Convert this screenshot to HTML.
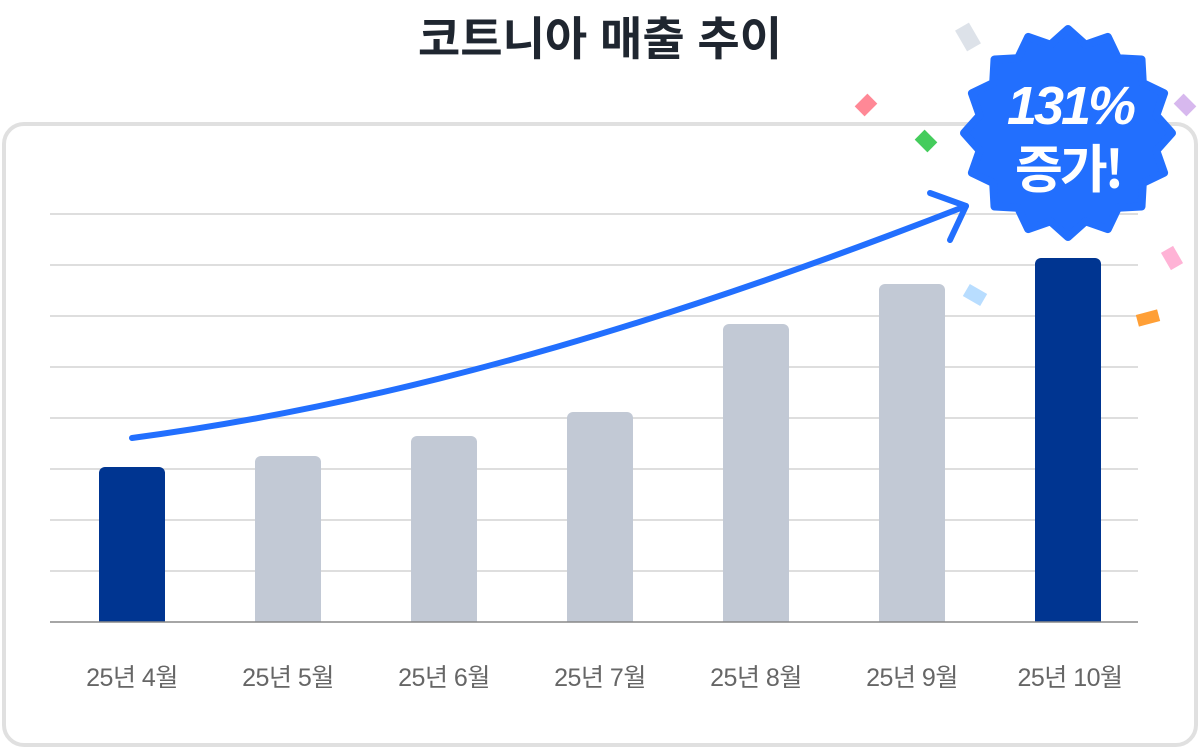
<!DOCTYPE html>
<html><head><meta charset="utf-8"><style>
body{margin:0;background:#fff;width:1200px;height:749px;overflow:hidden;font-family:"Liberation Sans","Noto Sans CJK KR",sans-serif}
</style></head><body>
<svg width="1200" height="749" xmlns="http://www.w3.org/2000/svg" style="position:absolute;left:0;top:0">
<rect x="4" y="124" width="1192" height="621" rx="20" fill="#fff" stroke="#e0e0e0" stroke-width="4"/>
<text x="600" y="55" text-anchor="middle" font-size="46" font-weight="bold" fill="#1f2630" font-family="Liberation Sans, Noto Sans CJK KR, sans-serif" letter-spacing="0">코트니아 매출 추이</text>
<g stroke="#d4d4d4" stroke-width="1.5">
<line x1="50" x2="1138" y1="214" y2="214"/><line x1="50" x2="1138" y1="265" y2="265"/>
<line x1="50" x2="1138" y1="316" y2="316"/><line x1="50" x2="1138" y1="367" y2="367"/>
<line x1="50" x2="1138" y1="418" y2="418"/><line x1="50" x2="1138" y1="469" y2="469"/>
<line x1="50" x2="1138" y1="520" y2="520"/><line x1="50" x2="1138" y1="571" y2="571"/>
</g>
<g>
<path d="M99 622V473a6 6 0 0 1 6-6h54a6 6 0 0 1 6 6V622Z" fill="#003591"/>
<path d="M255 622V462a6 6 0 0 1 6-6h54a6 6 0 0 1 6 6V622Z" fill="#c2c9d5"/>
<path d="M411 622V442a6 6 0 0 1 6-6h54a6 6 0 0 1 6 6V622Z" fill="#c2c9d5"/>
<path d="M567 622V418a6 6 0 0 1 6-6h54a6 6 0 0 1 6 6V622Z" fill="#c2c9d5"/>
<path d="M723 622V330a6 6 0 0 1 6-6h54a6 6 0 0 1 6 6V622Z" fill="#c2c9d5"/>
<path d="M879 622V290a6 6 0 0 1 6-6h54a6 6 0 0 1 6 6V622Z" fill="#c2c9d5"/>
<path d="M1035 622V264a6 6 0 0 1 6-6h54a6 6 0 0 1 6 6V622Z" fill="#003591"/>
</g>
<line x1="50" x2="1138" y1="622" y2="622" stroke="#888" stroke-width="1.5"/>
<g font-size="25" fill="#666" text-anchor="middle" letter-spacing="-0.5">
<text x="132" y="686">25년 4월</text><text x="288" y="686">25년 5월</text>
<text x="444" y="686">25년 6월</text><text x="600" y="686">25년 7월</text>
<text x="756" y="686">25년 8월</text><text x="912" y="686">25년 9월</text>
<text x="1070" y="686">25년 10월</text>
</g>
<path d="M132 438 C 420 400, 700 310, 966 206" fill="none" stroke="#226ffe" stroke-width="6" stroke-linecap="round"/>
<path d="M930 193 L966 206 L950 240" fill="none" stroke="#226ffe" stroke-width="6" stroke-linecap="round" stroke-linejoin="round"/>
<g>
<rect x="-8" y="-12" width="16" height="24" fill="#dde2e9" transform="translate(968,37) rotate(-30)"/>
<rect x="-9" y="-7" width="18" height="14" fill="#ff8896" transform="translate(866,105) rotate(-45)"/>
<rect x="-9" y="-7" width="18" height="14" fill="#d7b8ee" transform="translate(1185,105) rotate(45)"/>
<rect x="-9" y="-7" width="18" height="14" fill="#44cc5c" transform="translate(926,141) rotate(45)"/>
<rect x="-10" y="-7" width="20" height="14" fill="#b8ddff" transform="translate(975,295) rotate(30)"/>
<rect x="-7" y="-10" width="14" height="20" fill="#ffb3d6" transform="translate(1172,258) rotate(-30)"/>
<rect x="-11" y="-6" width="22" height="12" fill="#ff9f36" transform="translate(1148,318) rotate(-15)"/>
</g>
<polygon id="star" fill="#226ffe" stroke="#226ffe" stroke-width="8" stroke-linejoin="round" points=""/>
<text x="1070" y="124" text-anchor="middle" font-size="54" font-weight="bold" font-style="italic" fill="#fff" letter-spacing="-3">131%</text>
<text x="1068" y="188" text-anchor="middle" font-size="52" font-weight="bold" fill="#fff" font-family="Noto Sans CJK KR, sans-serif" letter-spacing="-3">증가!</text>
</svg>
<script>
var p=[],cx=1068,cy=133,n=16;
for(var i=0;i<2*n;i++){var r=i%2?90:104,a=Math.PI*i/n-Math.PI/2;p.push((cx+r*Math.cos(a)).toFixed(1)+","+(cy+r*Math.sin(a)).toFixed(1));}
document.getElementById("star").setAttribute("points",p.join(" "));
</script>
</body></html>
